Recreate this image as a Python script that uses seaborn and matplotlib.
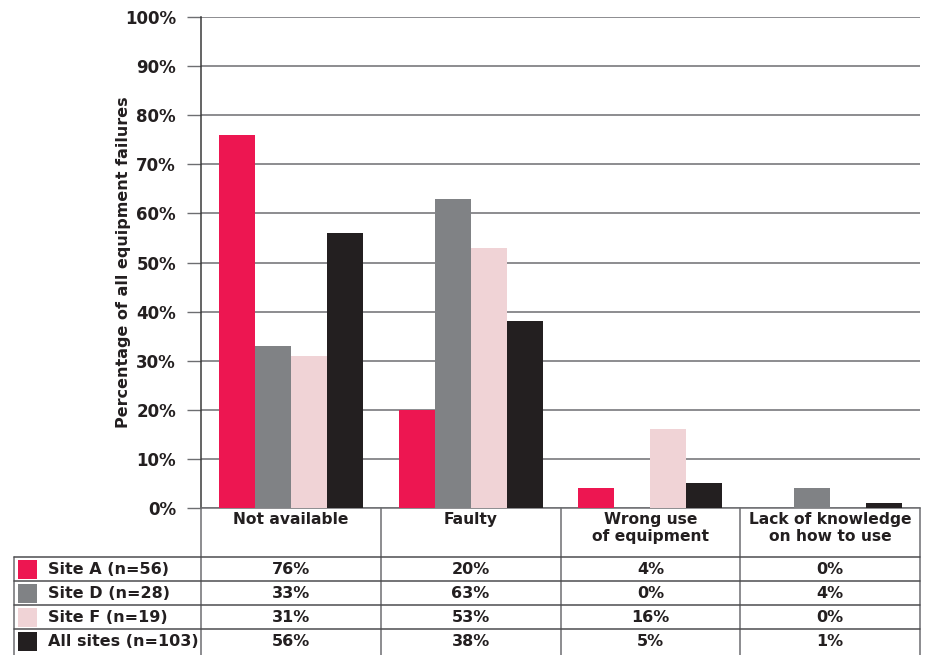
import numpy as np
import pandas as pd
import seaborn as sns
import matplotlib.pyplot as plt
from matplotlib.patches import Rectangle

# Data
categories = ["Not available", "Faulty", "Wrong use\nof equipment", "Lack of knowledge\non how to use"]
sites = ["Site A (n=56)", "Site D (n=28)", "Site F (n=19)", "All sites (n=103)"]
site_a = [76, 20, 4, 0]
site_d = [33, 63, 0, 4]
site_f = [31, 53, 16, 0]
all_sites = [56, 38, 5, 1]
colors = ["#ED1651", "#808285", "#F0D3D6", "#231F20"]
yticks = list(range(0, 101, 10))

series = [site_a, site_d, site_f, all_sites]
df = pd.DataFrame(
    [{"category": c, "site": s, "pct": v}
     for s, vals in zip(sites, series) for c, v in zip(categories, vals)]
)

sns.set_theme(style="white")
plt.rcParams["font.family"] = ["DejaVu Sans"]
TXT = "#231F20"
GRID = "#6D6E71"

W, H = 925, 655
fig = plt.figure(figsize=(W / 100, H / 100), dpi=100)
L, R, T, B = 201, 920, 17, 508
ax = fig.add_axes([L / W, 1 - B / H, (R - L) / W, (B - T) / H])

sns.barplot(data=df, x="category", y="pct", hue="site", order=categories,
            hue_order=sites, palette=colors, width=0.8, saturation=1,
            linewidth=0, edgecolor="none", ax=ax, legend=False, zorder=3)

ax.set_xlim(-0.5, 3.5)
ax.set_ylim(0, 100)
ax.set_yticks(yticks)
ax.set_yticklabels([f"{t}%" for t in yticks], fontweight="bold")
ax.set_axisbelow(True)
ax.yaxis.grid(True, color=GRID, lw=1.1)
ax.tick_params(axis="y", left=True, length=10, width=1, color=GRID, pad=8,
               labelsize=12, labelcolor=TXT)
ax.set_xticks([])
ax.set_xlabel("")
ax.set_ylabel("Percentage of all equipment failures", fontsize=11.5,
              fontweight="bold", color=TXT)
ax.yaxis.set_label_coords(-0.097, 0.5)
for side in ("top", "right"):
    ax.spines[side].set_visible(False)
ax.spines["left"].set_color("#3a3a3a")
ax.spines["left"].set_linewidth(1.1)
ax.spines["bottom"].set_color(GRID)
ax.spines["bottom"].set_linewidth(1.1)

# Data table beneath the bars, drawn in pixel units
ov = fig.add_axes([0, 0, 1, 1], zorder=5)
ov.set_xlim(0, W)
ov.set_ylim(H, 0)
ov.axis("off")
ov.patch.set_alpha(0)

cw = (R - L) / len(categories)
rows_y = [557, 581, 605, 629, 653]
LEFT = 14
line_kw = dict(color="#4d4d4f", lw=1.1)

for k in range(len(categories) + 1):
    ov.plot([L + k * cw] * 2, [B, H], color=GRID, lw=1.1)
ov.plot([LEFT, LEFT], [rows_y[0], H], color=GRID, lw=1.1)
for y in rows_y[:-1]:
    ov.plot([LEFT, R], [y, y], **line_kw)

for i, c in enumerate(categories):
    ov.text(L + (i + 0.5) * cw, 512, c, ha="center", va="top", fontsize=11.2,
            fontweight="bold", color=TXT, linespacing=1.2)

for r, (s, vals, col) in enumerate(zip(sites, series, colors)):
    y0 = rows_y[r]
    yc = y0 + 12
    ov.add_patch(Rectangle((18, y0 + 3), 19, 19, facecolor=col, edgecolor="none"))
    ov.text(48, yc, s, ha="left", va="center", fontsize=11.5,
            fontweight="bold", color=TXT)
    for i, v in enumerate(vals):
        ov.text(L + (i + 0.5) * cw, yc, f"{v}%", ha="center", va="center",
                fontsize=11.5, fontweight="bold", color=TXT)

fig.savefig("out.png", dpi=100)
